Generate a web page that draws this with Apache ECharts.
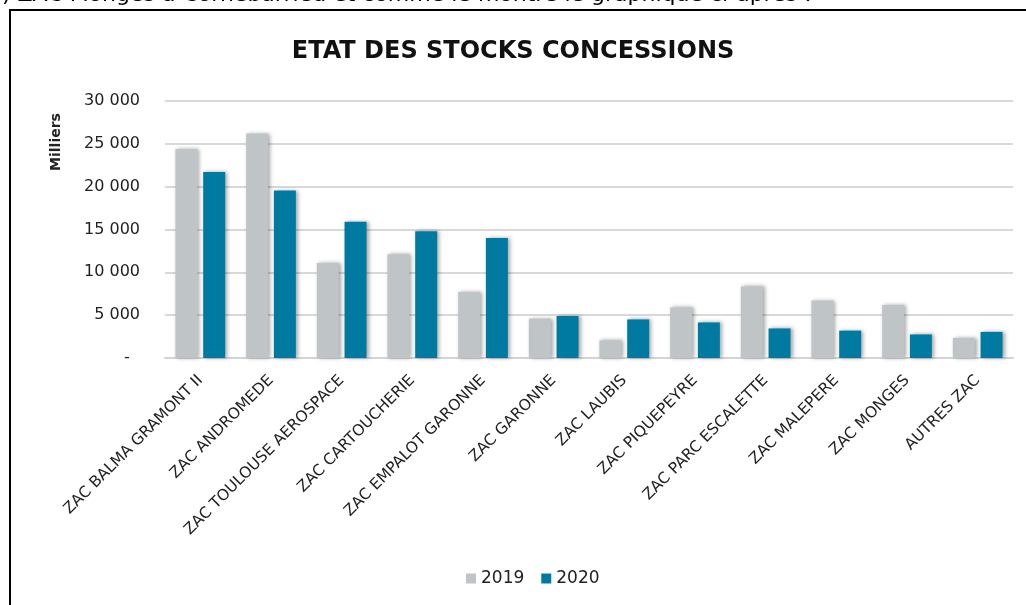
<!DOCTYPE html>
<html>
<head>
<meta charset="utf-8">
<script src="https://cdn.jsdelivr.net/npm/echarts@6/dist/echarts.min.js"></script>
<style>
  html, body { margin: 0; padding: 0; background: #fff; }
  #chart { width: 1026px; height: 605px; }
</style>
</head>
<body>
<div id="chart"></div>
<script>
// catégories (ZAC)
var categories = [
  "ZAC BALMA GRAMONT II", "ZAC ANDROMEDE", "ZAC TOULOUSE AEROSPACE",
  "ZAC CARTOUCHERIE", "ZAC EMPALOT GARONNE", "ZAC GARONNE", "ZAC LAUBIS",
  "ZAC PIQUEPEYRE", "ZAC PARC ESCALETTE", "ZAC MALEPERE", "ZAC MONGES",
  "AUTRES ZAC"
];
// stocks en milliers
var stock2019 = [24400, 26200, 11100, 12100, 7700, 4600, 2050, 5900, 8350, 6700, 6200, 2350];
var stock2020 = [21700, 19550, 15900, 14800, 14000, 4900, 4500, 4150, 3450, 3200, 2750, 3050];
var yTicks = [0, 5000, 10000, 15000, 20000, 25000, 30000];

var myChart = echarts.init(document.getElementById("chart"));

function fmt(v) {
  if (v === 0) return "-  ";
  return String(v).replace(/\B(?=(\d{3})+(?!\d))/g, " ");
}

var barShadow = {
  shadowBlur: 4,
  shadowColor: "rgba(0,0,0,0.35)",
  shadowOffsetX: 2,
  shadowOffsetY: 0
};

myChart.setOption({
  animation: false,
  color: ["#bfc4c7", "#007aa0"],
  title: {
    text: "ETAT DES STOCKS CONCESSIONS",
    left: "center",
    top: 35,
    textStyle: {
      fontFamily: "DejaVu Sans",
      fontWeight: "bold",
      fontSize: 24,
      color: "#111"
    }
  },
  legend: {
    bottom: 13,
    left: 461,
    itemWidth: 10,
    itemHeight: 10,
    itemGap: 17,
    icon: "rect",
    textStyle: { fontFamily: "DejaVu Sans", fontSize: 17, color: "#222" },
    data: ["2019", "2020"]
  },
  grid: {
    left: 165,
    right: 13,
    top: 101,
    bottom: 247,
    containLabel: false
  },
  xAxis: {
    type: "category",
    data: categories,
    axisTick: { show: false },
    axisLine: { lineStyle: { color: "#d4d4d4", width: 2 } },
    axisLabel: {
      rotate: 45,
      interval: 0,
      margin: 20,
      fontFamily: "DejaVu Sans",
      fontSize: 15.5,
      color: "#222"
    }
  },
  yAxis: {
    type: "value",
    min: 0,
    max: 30000,
    interval: 5000,
    axisLine: { show: false },
    axisTick: { show: false },
    splitLine: { lineStyle: { color: "#d9d9d9", width: 2 } },
    axisLabel: {
      margin: 25,
      fontFamily: "DejaVu Sans",
      fontSize: 16,
      color: "#222",
      formatter: function (v) { return yTicks.indexOf(v) >= 0 ? fmt(v) : ""; }
    }
  },
  graphic: [
    {
      type: "rect",
      shape: { x: 10, y: 10, width: 1040, height: 640 },
      style: { fill: "none", stroke: "#000", lineWidth: 2 }
    },
    {
      type: "text",
      left: -12,
      top: -16,
      style: {
        text: "b) ZAC Monges à Cornebarrieu et comme le montre le graphique ci-après :",
        fontFamily: "DejaVu Sans",
        fontSize: 22,
        fill: "#000"
      }
    },
    {
      type: "text",
      x: 56,
      y: 142,
      rotation: Math.PI / 2,
      style: {
        text: "Milliers",
        fontFamily: "DejaVu Sans",
        fontWeight: "bold",
        fontSize: 14,
        fill: "#222",
        align: "center",
        verticalAlign: "middle"
      }
    }
  ],
  series: [
    {
      name: "2019",
      type: "bar",
      data: stock2019,
      barWidth: 22,
      barGap: "26%",
      itemStyle: barShadow
    },
    {
      name: "2020",
      type: "bar",
      data: stock2020,
      barWidth: 22,
      barGap: "26%",
      itemStyle: barShadow
    }
  ]
});

window.addEventListener("resize", function () {
  myChart.resize();
});
</script>
</body>
</html>
